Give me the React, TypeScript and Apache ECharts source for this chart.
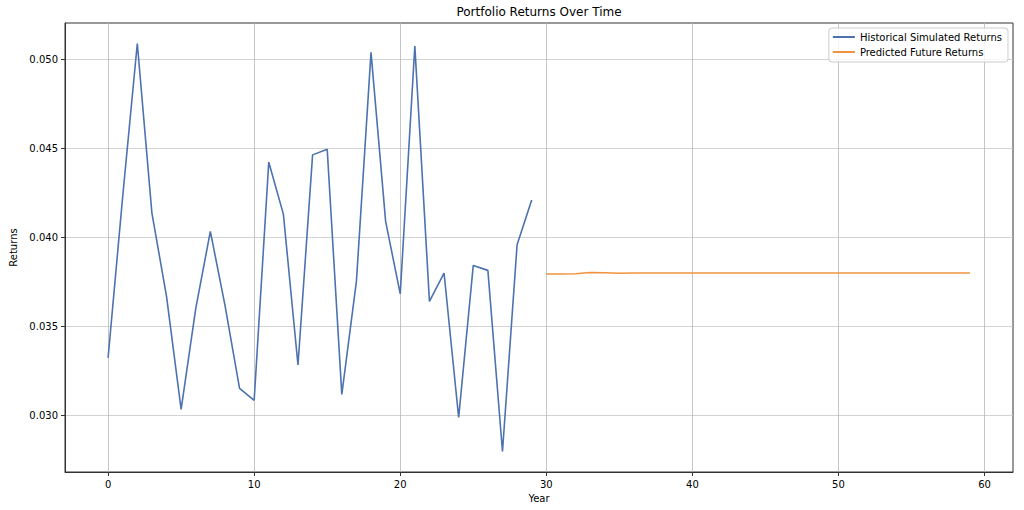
import React, { useEffect, useRef } from "react";
import * as echarts from "echarts";

const histYears = [0,1,2,3,4,5,6,7,8,9,10,11,12,13,14,15,16,17,18,19,20,21,22,23,24,25,26,27,28,29];
const histReturns = [0.03324,0.0423,0.0509,0.04137,0.03669,0.03034,0.0360,0.04034,0.0362,0.03152,0.03085,0.04423,0.04131,0.03283,0.04464,0.04496,0.03118,0.03753,0.0504,0.0409,0.03683,0.05075,0.03641,0.0380,0.02988,0.03843,0.03815,0.02797,0.03959,0.04211];
const futureYears = [30,31,32,33,34,35,36,37,38,39,40,41,42,43,44,45,46,47,48,49,50,51,52,53,54,55,56,57,58,59];
const futureReturns = [0.03795,0.03795,0.03796,0.03803,0.03802,0.03799,0.038,0.038,0.038,0.038,0.038,0.038,0.038,0.038,0.038,0.038,0.038,0.038,0.038,0.038,0.038,0.038,0.038,0.038,0.038,0.038,0.038,0.038,0.038,0.038];
const xTicks = [0,10,20,30,40,50,60];
const yTicks = [0.030,0.035,0.040,0.045,0.050];

const FONT = "DejaVu Sans";

export default function App() {
  const ref = useRef<HTMLDivElement>(null);
  useEffect(() => {
    document.body.style.margin = "0";
    const chart = echarts.init(ref.current!, null, { renderer: "svg" });
    const isTick = (v: number, arr: number[]) => arr.some((t) => Math.abs(t - v) < 1e-9);
    chart.setOption({
      animation: false,
      backgroundColor: "#ffffff",
      textStyle: { fontFamily: FONT },
      grid: { left: 65, top: 23, right: 11, bottom: 38, show: true, borderColor: "#333333", borderWidth: 1, backgroundColor: "transparent" },
      graphic: [
        { type: "text", x: 539, y: 12, style: { text: "Portfolio Returns Over Time", fontFamily: FONT, fontSize: 12, fill: "#000", textAlign: "center", textVerticalAlign: "middle" } },
      ],
      legend: {
        right: 16,
        top: 28,
        orient: "vertical",
        icon: "rect",
        itemWidth: 22,
        itemHeight: 2,
        itemGap: 5,
        padding: [4, 6, 5, 4],
        backgroundColor: "rgba(255,255,255,0.8)",
        borderColor: "#cccccc",
        borderWidth: 1,
        borderRadius: 3,
        textStyle: { fontFamily: FONT, fontSize: 10, color: "#000" },
        data: ["Historical Simulated Returns", "Predicted Future Returns"],
      },
      xAxis: {
        type: "value",
        min: -2.95,
        max: 61.95,
        splitNumber: 6,
        name: "Year",
        nameLocation: "middle",
        nameGap: 21,
        nameTextStyle: { fontFamily: FONT, fontSize: 10, color: "#000" },
        axisLine: { show: true, onZero: false, lineStyle: { color: "#333333", width: 1 } },
        axisTick: { show: true, inside: false, length: 4, lineStyle: { color: "#333333" }, customValues: xTicks },
        axisLabel: { fontFamily: FONT, fontSize: 10, color: "#000", margin: 7, customValues: xTicks, formatter: (v: number) => (isTick(v, xTicks) ? String(v) : "") },
        splitLine: { show: true, lineStyle: { color: "#b8b8b8", width: 0.8 } },
      },
      yAxis: {
        type: "value",
        min: 0.02682,
        max: 0.05205,
        splitNumber: 5,
        name: "Returns",
        nameLocation: "middle",
        nameGap: 41,
        nameTextStyle: { fontFamily: FONT, fontSize: 10, color: "#000" },
        axisLine: { show: true, onZero: false, lineStyle: { color: "#333333", width: 1 } },
        axisTick: { show: true, inside: false, length: 4, lineStyle: { color: "#333333" }, customValues: yTicks },
        axisLabel: { fontFamily: FONT, fontSize: 10, color: "#000", margin: 7, customValues: yTicks, formatter: (v: number) => (isTick(v, yTicks) ? v.toFixed(3) : "") },
        splitLine: { show: true, lineStyle: { color: "#c8c8c8", width: 0.8 } },
      },
      series: [
        {
          name: "Historical Simulated Returns",
          type: "line",
          symbol: "none",
          color: "#4c72b0",
          lineStyle: { width: 1.6, color: "#4c72b0" },
          data: histYears.map((x, i) => [x, histReturns[i]]),
        },
        {
          name: "Predicted Future Returns",
          type: "line",
          symbol: "none",
          color: "#f0923e",
          lineStyle: { width: 1.6, color: "#f0923e" },
          data: futureYears.map((x, i) => [x, futureReturns[i]]),
        },
      ],
    });
    return () => chart.dispose();
  }, []);
  return <div ref={ref} style={{ width: 1024, height: 510 }} />;
}
